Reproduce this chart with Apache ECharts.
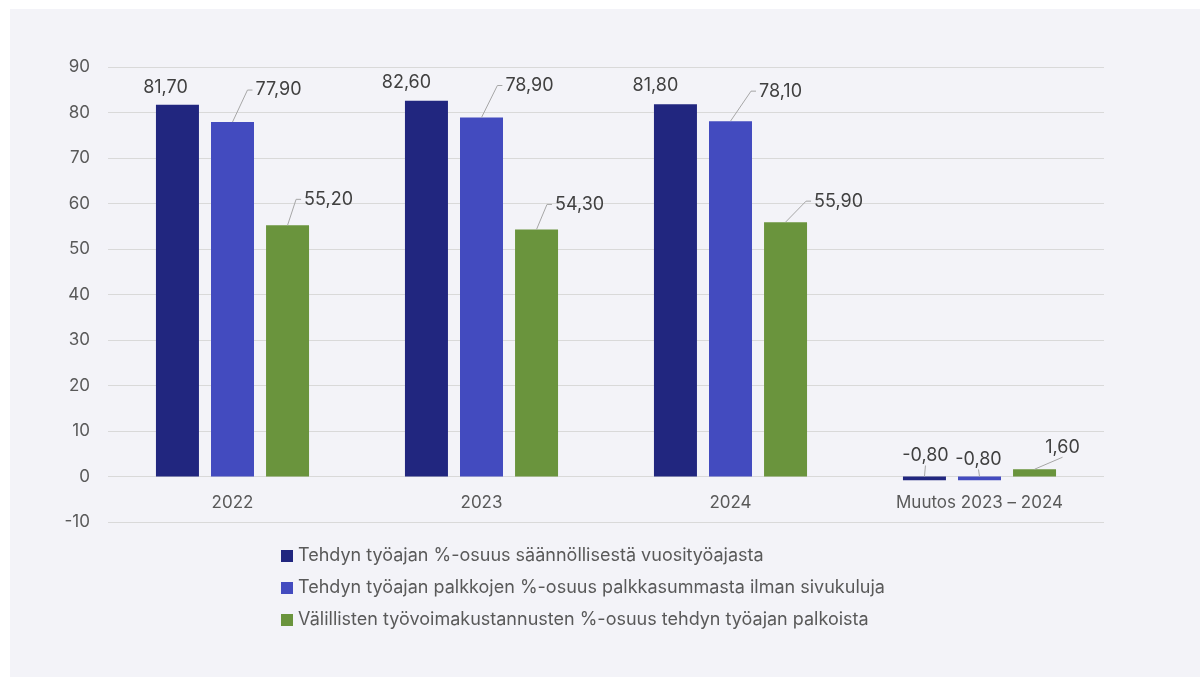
<!DOCTYPE html>
<html>
<head>
<meta charset="utf-8">
<script src="https://cdn.jsdelivr.net/npm/echarts@6/dist/echarts.min.js"></script>
<style>
  html, body { margin: 0; padding: 0; background: #fff; }
  #chart { position: absolute; left: 10px; top: 9px; width: 1190px; height: 668px; background: #f3f3f8; }
</style>
</head>
<body>
<div id="chart"></div>
<script>
// chart data
var categories = ['2022', '2023', '2024', 'Muutos 2023 – 2024']
var seriesNames = [
  'Tehdyn työajan %-osuus säännöllisestä vuosityöajasta',
  'Tehdyn työajan palkkojen %-osuus palkkasummasta ilman sivukuluja',
  'Välillisten työvoimakustannusten %-osuus tehdyn työajan palkoista'
]
var workTimeShare = [81.7, 82.6, 81.8, -0.8]
var wageShare = [77.9, 78.9, 78.1, -0.8]
var indirectShare = [55.2, 54.3, 55.9, 1.6]
var yTicks = { min: -10, max: 90, step: 10 }

var colors = ['#21267f', '#434bbf', '#6a943d']
var font = 'Inter, "Noto Sans", sans-serif'

// label placement: [shift from bar centre, label centre above bar top]
var labelShift = [
  [[-12, 17], [-20, 18], [-20, 19], [1, 21]],
  [[46, 32], [48, 32], [50, 30], [-1, 17]],
  [[41, 26], [43, 25], [53, 21], [28, 22]]
]
// series 1 labels sit right on top of their bars, no leader line
var showLine = [
  [false, false, false, true],
  [true, true, true, true],
  [true, true, true, true]
]

// leader lines collected from the label layout (bar rect -> label)
var leaders = {}

function fmt(v) {
  return v.toFixed(2).replace('.', ',')
}

function makeSeries(idx, values) {
  return {
    name: seriesNames[idx],
    type: 'bar',
    barWidth: 43,
    barGap: '28%',
    itemStyle: { color: colors[idx] },
    data: values,
    label: {
      show: true,
      position: 'top',
      color: '#404040',
      fontSize: 18,
      fontFamily: font,
      formatter: function(p) { return fmt(p.value) }
    },
    labelLayout: function(p) {
      var s = labelShift[idx][p.dataIndex]
      var bx = p.rect.x + p.rect.width / 2
      var by = p.rect.y
      var cx = bx + s[0]
      var cy = by - s[1]
      if (showLine[idx][p.dataIndex]) {
        var pts
        if (Math.abs(s[0]) >= 40) {
          // elbow line into the left side of the label
          var lx = cx - p.labelRect.width / 2 - 3
          pts = [[bx, by], [lx - 5, cy], [lx, cy]]
        } else {
          pts = [[bx, by], [cx, cy + 10]]
        }
        leaders[idx + '-' + p.dataIndex] = pts
      }
      return { x: cx, y: cy, align: 'center', verticalAlign: 'middle' }
    }
  }
}

var option = {
  animation: false,
  textStyle: { fontFamily: font },
  grid: { left: 98, right: 96, top: 58, bottom: 155 },
  legend: {
    orient: 'vertical',
    left: 266,
    top: 533,
    icon: 'rect',
    itemWidth: 12,
    itemHeight: 12,
    itemGap: 14,
    textStyle: { color: '#595959', fontSize: 18, fontFamily: font },
    data: seriesNames
  },
  xAxis: {
    type: 'category',
    data: categories,
    offset: -45,
    axisTick: { show: false },
    axisLine: { show: false, onZero: false },
    axisLabel: { color: '#595959', fontSize: 17, margin: 17, fontFamily: font }
  },
  yAxis: {
    type: 'value',
    min: yTicks.min,
    max: yTicks.max,
    interval: yTicks.step,
    axisLine: { show: false },
    axisTick: { show: false },
    axisLabel: { color: '#595959', fontSize: 17, margin: 18, fontFamily: font },
    splitLine: { lineStyle: { color: '#d9d9d9' } }
  },
  series: [
    makeSeries(0, workTimeShare),
    makeSeries(1, wageShare),
    makeSeries(2, indirectShare)
  ]
}

var chart = echarts.init(document.getElementById('chart'))
chart.setOption(option)

chart.setOption({
  graphic: Object.keys(leaders).map(function(k) {
    return {
      type: 'polyline',
      silent: true,
      z: 10,
      shape: { points: leaders[k] },
      style: { stroke: '#a6a6a6', lineWidth: 1, fill: null }
    }
  })
})
</script>
</body>
</html>
